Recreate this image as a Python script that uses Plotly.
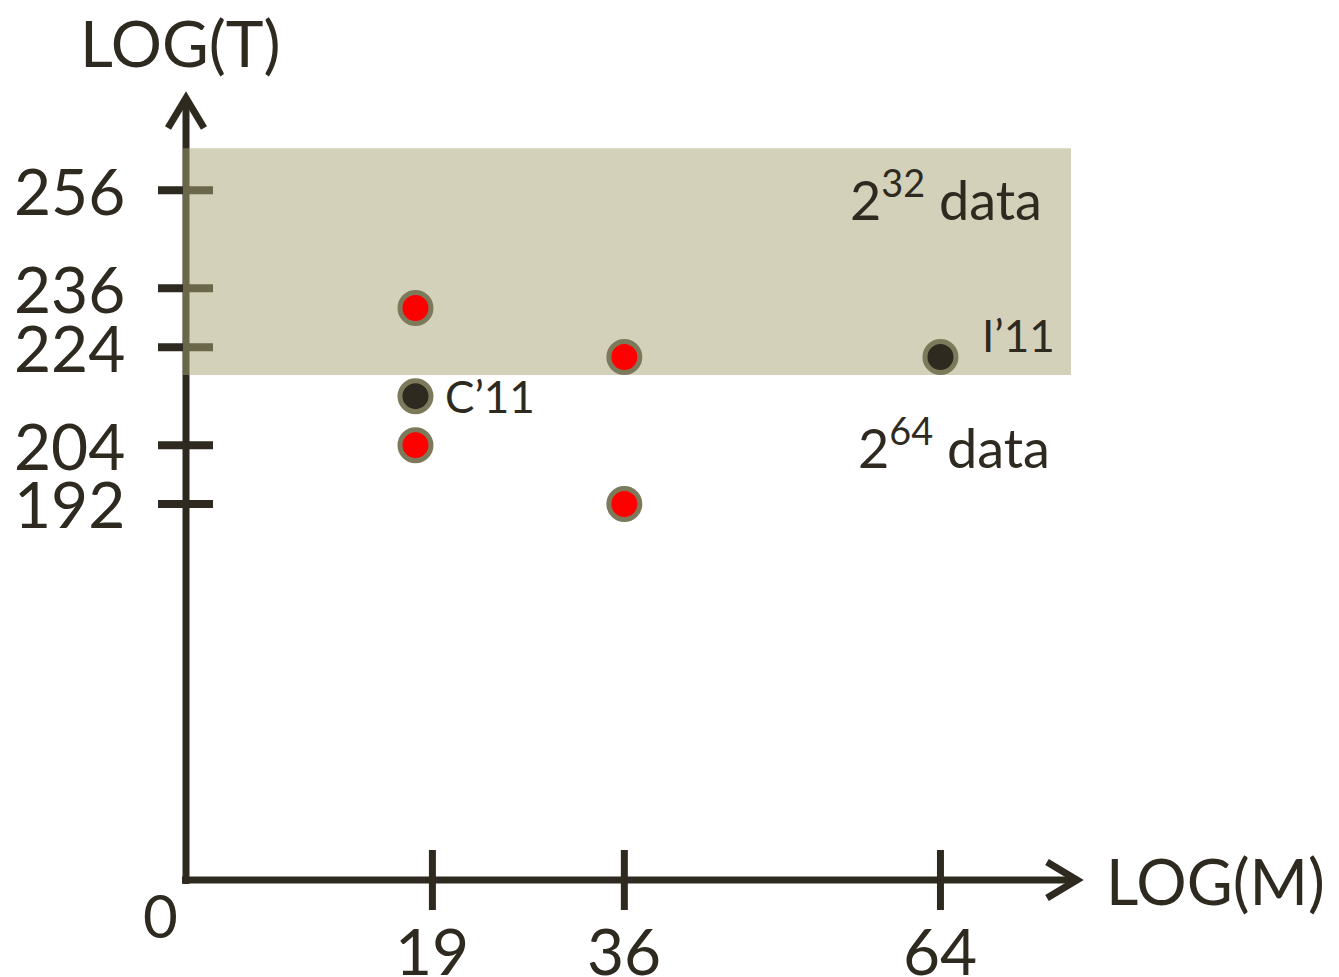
import plotly.graph_objects as go

# ---- data ----
x_ticks = [19, 36, 64]
y_ticks = [256, 236, 224, 204, 192]
red_x = [17.5, 36, 17.5, 36]
red_y = [232, 222, 204, 192]
black_x = [17.5, 64]
black_y = [214, 222]
black_labels = ["C\u201911", "I\u201911"]
band_y = [218.3, 264.6]   # LOG(T) band for 2^32 data

DARK = "#2e2a20"
BORDER = "#7d7a5c"
FONT = "Lato"

BODY = 8  # default page body margin
W, H = 1339 - BODY, 977 - BODY
L, R, T, B = 186, 1080, 95, 880   # plot area in page pixels
XR = [(L - 217.9) / 11.29, (R - 217.9) / 11.29]
YR = [222.4 - (B - 355) / 4.90, 222.4 + (355 - T) / 4.90]


def px(p):
    return (p - L) / (R - L)


def py(p):
    return (B - p) / (B - T)


fig = go.Figure()

fig.add_trace(go.Scatter(
    x=red_x, y=red_y, mode="markers",
    marker=dict(size=31, color="#ff0000", line=dict(color=BORDER, width=5)),
    hoverinfo="skip", showlegend=False))
fig.add_trace(go.Scatter(
    x=black_x, y=black_y, mode="markers",
    marker=dict(size=31, color=DARK, line=dict(color=BORDER, width=5)),
    hoverinfo="skip", showlegend=False))

shapes = []
# axes
shapes.append(dict(type="line", xref="paper", yref="paper", x0=px(186), x1=px(186),
                   y0=py(884), y1=py(98), line=dict(color=DARK, width=7)))
shapes.append(dict(type="line", xref="paper", yref="paper", x0=px(182), x1=px(1077),
                   y0=py(880), y1=py(880), line=dict(color=DARK, width=7)))
# arrowheads
shapes.append(dict(type="path", xref="paper", yref="paper",
                   path=f"M {px(168)},{py(128)} L {px(186)},{py(98)} L {px(204)},{py(128)}",
                   line=dict(color=DARK, width=7)))
shapes.append(dict(type="path", xref="paper", yref="paper",
                   path=f"M {px(1047)},{py(862)} L {px(1077)},{py(880)} L {px(1047)},{py(898)}",
                   line=dict(color=DARK, width=7)))
# y ticks
for v in y_ticks:
    shapes.append(dict(type="line", xref="paper", yref="y", x0=px(158), x1=px(213),
                       y0=v, y1=v, line=dict(color=DARK, width=8)))
# x ticks
for v in x_ticks:
    shapes.append(dict(type="line", xref="x", yref="paper", x0=v, x1=v,
                       y0=py(910), y1=py(850), line=dict(color=DARK, width=7)))
# shaded band (semi-transparent, over axes)
shapes.append(dict(type="rect", xref="paper", yref="y", x0=px(183), x1=px(1071),
                   y0=band_y[0], y1=band_y[1], line=dict(width=0),
                   fillcolor="rgba(167,163,118,0.5)"))
for s in shapes:
    s["layer"] = "below"

ann = []
for v in y_ticks:
    ann.append(dict(x=px(127), y=v, xref="paper", yref="y", text=str(v), showarrow=False,
                    xanchor="right", yanchor="middle", font=dict(size=64, color=DARK, family=FONT)))
for v in x_ticks:
    ann.append(dict(x=v, y=py(950), xref="x", yref="paper", text=str(v), showarrow=False,
                    xanchor="center", yanchor="middle", font=dict(size=64, color=DARK, family=FONT)))
ann.append(dict(x=px(160), y=py(915), xref="paper", yref="paper", text="0", showarrow=False,
                xanchor="center", yanchor="middle", font=dict(size=60, color=DARK, family=FONT)))
ann.append(dict(x=px(180), y=py(42), xref="paper", yref="paper", text="LOG(T)", showarrow=False,
                xanchor="center", yanchor="middle", font=dict(size=64, color=DARK, family=FONT)))
ann.append(dict(x=px(1104), y=py(880), xref="paper", yref="paper", text="LOG(M)", showarrow=False,
                xanchor="left", yanchor="middle", font=dict(size=63, color=DARK, family=FONT)))
ann.append(dict(x=px(1044), y=py(196), xref="paper", yref="paper", text="2<sup>32</sup> data",
                showarrow=False, xanchor="right", yanchor="middle",
                font=dict(size=54, color=DARK, family=FONT)))
ann.append(dict(x=px(1052), y=py(444), xref="paper", yref="paper", text="2<sup>64</sup> data",
                showarrow=False, xanchor="right", yanchor="middle",
                font=dict(size=54, color=DARK, family=FONT)))
offsets = [28, 40]
for xv, yv, t, o in zip(black_x, black_y, black_labels, offsets):
    ann.append(dict(x=xv, y=yv, xref="x", yref="y", text=t, showarrow=False,
                    xanchor="left", yanchor="middle", xshift=o,
                    yshift=(0 if o == 28 else 22),
                    font=dict(size=44, color=DARK, family=FONT)))

fig.update_layout(
    width=W, height=H,
    margin=dict(l=L - BODY, r=1339 - R, t=T - BODY, b=977 - B, pad=0),
    paper_bgcolor="white", plot_bgcolor="rgba(0,0,0,0)",
    xaxis=dict(range=XR, visible=False, fixedrange=True),
    yaxis=dict(range=YR, visible=False, fixedrange=True),
    shapes=shapes, annotations=ann, showlegend=False,
)

fig.write_html("out.html")
